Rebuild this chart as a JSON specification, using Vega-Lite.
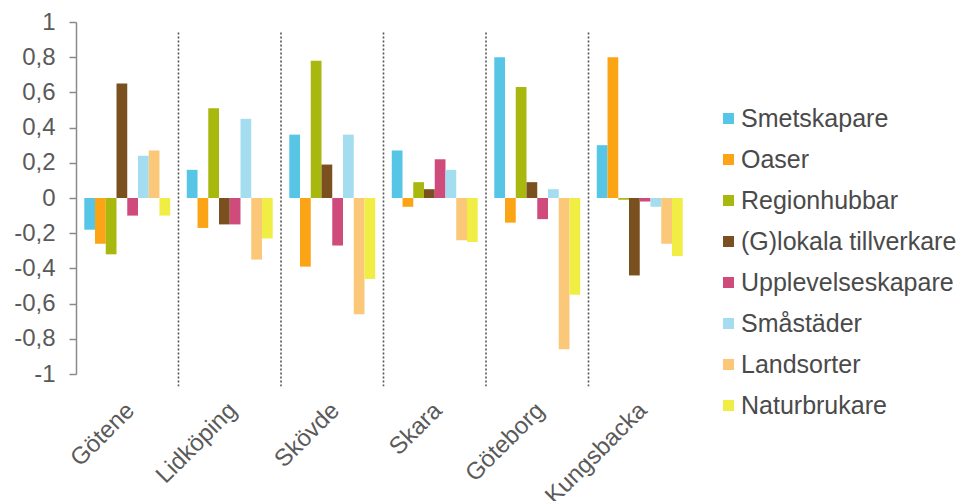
{
  "$schema": "https://vega.github.io/schema/vega-lite/v6.json",
  "width": 615,
  "height": 352,
  "autosize": {"type": "none"},
  "padding": {"left": 76, "top": 22, "right": 269, "bottom": 127},
  "background": "white",
  "config": {
    "locale": {"number": {"decimal": ",", "thousands": " ", "grouping": [3], "currency": ["", " kr"], "minus": "-"}},
    "view": {"stroke": null},
    "font": "Liberation Sans"
  },
  "datasets": {
    "bars": [
      {"Kommun": "Götene", "Typ": "Smetskapare", "Varde": -0.18},
      {"Kommun": "Götene", "Typ": "Oaser", "Varde": -0.26},
      {"Kommun": "Götene", "Typ": "Regionhubbar", "Varde": -0.32},
      {"Kommun": "Götene", "Typ": "(G)lokala tillverkare", "Varde": 0.65},
      {"Kommun": "Götene", "Typ": "Upplevelseskapare", "Varde": -0.1},
      {"Kommun": "Götene", "Typ": "Småstäder", "Varde": 0.24},
      {"Kommun": "Götene", "Typ": "Landsorter", "Varde": 0.27},
      {"Kommun": "Götene", "Typ": "Naturbrukare", "Varde": -0.1},
      {"Kommun": "Lidköping", "Typ": "Smetskapare", "Varde": 0.16},
      {"Kommun": "Lidköping", "Typ": "Oaser", "Varde": -0.17},
      {"Kommun": "Lidköping", "Typ": "Regionhubbar", "Varde": 0.51},
      {"Kommun": "Lidköping", "Typ": "(G)lokala tillverkare", "Varde": -0.15},
      {"Kommun": "Lidköping", "Typ": "Upplevelseskapare", "Varde": -0.15},
      {"Kommun": "Lidköping", "Typ": "Småstäder", "Varde": 0.45},
      {"Kommun": "Lidköping", "Typ": "Landsorter", "Varde": -0.35},
      {"Kommun": "Lidköping", "Typ": "Naturbrukare", "Varde": -0.23},
      {"Kommun": "Skövde", "Typ": "Smetskapare", "Varde": 0.36},
      {"Kommun": "Skövde", "Typ": "Oaser", "Varde": -0.39},
      {"Kommun": "Skövde", "Typ": "Regionhubbar", "Varde": 0.78},
      {"Kommun": "Skövde", "Typ": "(G)lokala tillverkare", "Varde": 0.19},
      {"Kommun": "Skövde", "Typ": "Upplevelseskapare", "Varde": -0.27},
      {"Kommun": "Skövde", "Typ": "Småstäder", "Varde": 0.36},
      {"Kommun": "Skövde", "Typ": "Landsorter", "Varde": -0.66},
      {"Kommun": "Skövde", "Typ": "Naturbrukare", "Varde": -0.46},
      {"Kommun": "Skara", "Typ": "Smetskapare", "Varde": 0.27},
      {"Kommun": "Skara", "Typ": "Oaser", "Varde": -0.05},
      {"Kommun": "Skara", "Typ": "Regionhubbar", "Varde": 0.09},
      {"Kommun": "Skara", "Typ": "(G)lokala tillverkare", "Varde": 0.05},
      {"Kommun": "Skara", "Typ": "Upplevelseskapare", "Varde": 0.22},
      {"Kommun": "Skara", "Typ": "Småstäder", "Varde": 0.16},
      {"Kommun": "Skara", "Typ": "Landsorter", "Varde": -0.24},
      {"Kommun": "Skara", "Typ": "Naturbrukare", "Varde": -0.25},
      {"Kommun": "Göteborg", "Typ": "Smetskapare", "Varde": 0.8},
      {"Kommun": "Göteborg", "Typ": "Oaser", "Varde": -0.14},
      {"Kommun": "Göteborg", "Typ": "Regionhubbar", "Varde": 0.63},
      {"Kommun": "Göteborg", "Typ": "(G)lokala tillverkare", "Varde": 0.09},
      {"Kommun": "Göteborg", "Typ": "Upplevelseskapare", "Varde": -0.12},
      {"Kommun": "Göteborg", "Typ": "Småstäder", "Varde": 0.05},
      {"Kommun": "Göteborg", "Typ": "Landsorter", "Varde": -0.86},
      {"Kommun": "Göteborg", "Typ": "Naturbrukare", "Varde": -0.55},
      {"Kommun": "Kungsbacka", "Typ": "Smetskapare", "Varde": 0.3},
      {"Kommun": "Kungsbacka", "Typ": "Oaser", "Varde": 0.8},
      {"Kommun": "Kungsbacka", "Typ": "Regionhubbar", "Varde": -0.01},
      {"Kommun": "Kungsbacka", "Typ": "(G)lokala tillverkare", "Varde": -0.44},
      {"Kommun": "Kungsbacka", "Typ": "Upplevelseskapare", "Varde": -0.02},
      {"Kommun": "Kungsbacka", "Typ": "Småstäder", "Varde": -0.05},
      {"Kommun": "Kungsbacka", "Typ": "Landsorter", "Varde": -0.26},
      {"Kommun": "Kungsbacka", "Typ": "Naturbrukare", "Varde": -0.33}
    ],
    "separators": [
      {"Kommun": "Lidköping"},
      {"Kommun": "Skövde"},
      {"Kommun": "Skara"},
      {"Kommun": "Göteborg"},
      {"Kommun": "Kungsbacka"}
    ]
  },
  "layer": [
    {
      "data": {"name": "bars"},
      "mark": {"type": "bar"},
      "encoding": {
        "x": {
          "field": "Kommun", "type": "nominal",
          "scale": {"domain": ["Götene", "Lidköping", "Skövde", "Skara", "Göteborg", "Kungsbacka"], "paddingInner": 0, "paddingOuter": 0},
          "axis": {"title": null, "domain": false, "ticks": false, "labelAngle": -45, "labelPadding": 24, "labelOffset": -5, "labelFontSize": 24, "labelColor": "#5a5a5a", "labelOverlap": false, "labelLimit": 300}
        },
        "xOffset": {
          "field": "Typ", "type": "nominal",
          "scale": {"domain": ["Smetskapare", "Oaser", "Regionhubbar", "(G)lokala tillverkare", "Upplevelseskapare", "Småstäder", "Landsorter", "Naturbrukare"], "paddingInner": 0, "paddingOuter": 0.77}
        },
        "y": {
          "field": "Varde", "type": "quantitative",
          "scale": {"domain": [-1, 1], "nice": false, "zero": false},
          "axis": {"title": null, "grid": false, "values": [-1, -0.8, -0.6, -0.4, -0.2, 0, 0.2, 0.4, 0.6, 0.8, 1], "format": ".1~f", "labelFontSize": 24, "labelColor": "#5a5a5a", "labelPadding": 14, "labelOverlap": false, "labelFlush": false, "tickSize": 7, "tickColor": "#8a8a8a", "domainColor": "#8a8a8a", "domainWidth": 1.5, "tickWidth": 1.5}
        },
        "color": {
          "field": "Typ", "type": "nominal",
          "scale": {
            "domain": ["Smetskapare", "Oaser", "Regionhubbar", "(G)lokala tillverkare", "Upplevelseskapare", "Småstäder", "Landsorter", "Naturbrukare"],
            "range": ["#56C5E6", "#FBA416", "#A9B80F", "#7B5020", "#CE4B7C", "#A5DDF0", "#FBC87A", "#F0EE45"]
          },
          "legend": {"title": null, "orient": "none", "legendX": 640, "legendY": 84, "symbolType": "square", "symbolSize": 121, "symbolStrokeWidth": 0, "labelFontSize": 25, "labelColor": "#4a4a4a", "labelOffset": 0, "labelLimit": 400, "rowPadding": 15}
        }
      }
    },
    {
      "mark": {"type": "rule", "color": "#9a9a9a", "strokeWidth": 1.5},
      "encoding": {
        "y": {"datum": 0, "type": "quantitative",
          "axis": {"title": null, "grid": false, "values": [-1, -0.8, -0.6, -0.4, -0.2, 0, 0.2, 0.4, 0.6, 0.8, 1], "format": ".1~f", "labelFontSize": 24, "labelColor": "#5a5a5a", "labelPadding": 14, "labelOverlap": false, "labelFlush": false, "tickSize": 7, "tickColor": "#8a8a8a", "domainColor": "#8a8a8a", "domainWidth": 1.5, "tickWidth": 1.5}}
      }
    },
    {
      "data": {"name": "separators"},
      "mark": {"type": "rule", "color": "#555555", "strokeWidth": 1.6, "strokeDash": [2, 2]},
      "encoding": {
        "x": {"field": "Kommun", "type": "nominal", "bandPosition": 0,
          "axis": {"title": null, "domain": false, "ticks": false, "labelAngle": -45, "labelPadding": 24, "labelOffset": -5, "labelFontSize": 24, "labelColor": "#5a5a5a", "labelOverlap": false, "labelLimit": 300}},
        "y": {"datum": 0.94, "type": "quantitative",
          "axis": {"title": null, "grid": false, "values": [-1, -0.8, -0.6, -0.4, -0.2, 0, 0.2, 0.4, 0.6, 0.8, 1], "format": ".1~f", "labelFontSize": 24, "labelColor": "#5a5a5a", "labelPadding": 14, "labelOverlap": false, "labelFlush": false, "tickSize": 7, "tickColor": "#8a8a8a", "domainColor": "#8a8a8a", "domainWidth": 1.5, "tickWidth": 1.5}},
        "y2": {"datum": -1.07}
      }
    }
  ]
}
